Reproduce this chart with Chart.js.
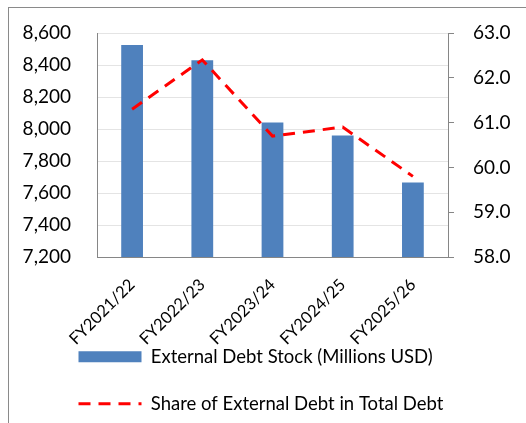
<!DOCTYPE html>
<html>
<head>
<meta charset="utf-8">
<script src="https://cdn.jsdelivr.net/npm/chart.js@4.4.0/dist/chart.umd.min.js"></script>
<style>
    html, body { margin: 0; padding: 0; background: #fff; overflow: hidden; }
    #frame { position: absolute; left: 8px; top: 7px; width: 600px; height: 600px; border: 1px solid #8a8a8a; }
    #wrap { position: absolute; left: 0; top: 0; width: 526px; height: 423px; }
</style>
</head>
<body>
<div id="frame"></div>
<div id="wrap"><canvas id="debtChart"></canvas></div>
<script>
// Chart data
const fiscalYears = ['FY2021/22', 'FY2022/23', 'FY2023/24', 'FY2024/25', 'FY2025/26'];
const externalDebtStock = [8525, 8430, 8040, 7960, 7665];
const externalShare = [61.3, 62.4, 60.7, 60.9, 59.8];

// Axis ranges [min, max, step]
const debtAxis = [7200, 8600, 200];
const shareAxis = [58, 63, 1];

const barColor = '#4F81BD';
const lineColor = '#FF0000';
const lineDash = [12, 8];
const fontFamily = 'Lato, "Liberation Sans", sans-serif';

// legend sits left-aligned under the axis labels, and the rotated
// category labels are allowed to run down into the legend's top padding
const layoutTweaks = {
    id: 'layoutTweaks',
    afterLayout(chart) {
        chart.legend.left = 50;
        chart.scales.x.bottom = chart.height;
    }
};

const ctx = document.getElementById('debtChart').getContext('2d');
const debtChart = new Chart(ctx, {
    data: {
        labels: fiscalYears,
        datasets: [{
            type: 'bar',
            label: 'External Debt Stock (Millions USD)',
            data: externalDebtStock,
            backgroundColor: barColor,
            barPercentage: 0.31,
            categoryPercentage: 1,
            yAxisID: 'y',
            order: 1
        }, {
            type: 'line',
            label: 'Share of External Debt in Total Debt',
            data: externalShare,
            borderColor: lineColor,
            borderWidth: 3,
            borderDash: lineDash,
            pointRadius: 0,
            tension: 0,
            fill: false,
            yAxisID: 'y1',
            order: 0
        }]
    },
    options: {
        responsive: true,
        maintainAspectRatio: false,
        animation: false,
        layout: {
            autoPadding: false,
            padding: { left: 20, right: 14, top: 33, bottom: 0 }
        },
        plugins: {
            tooltip: { enabled: false },
            legend: {
                position: 'bottom',
                align: 'start',
                labels: {
                    color: '#000',
                    font: { family: fontFamily, size: 18.5 },
                    usePointStyle: true,
                    pointStyleWidth: 63,
                    boxHeight: 11,
                    padding: 28.5,
                    sort: (a, b) => a.datasetIndex - b.datasetIndex,
                    generateLabels(chart) {
                        const items = Chart.defaults.plugins.legend.labels.generateLabels(chart);
                        items.forEach(item => {
                            if (item.datasetIndex === 0) {
                                item.pointStyle = 'rect';
                                item.lineWidth = 0;
                                item.fillStyle = barColor;
                            } else {
                                item.pointStyle = 'line';
                                item.lineWidth = 3;
                                item.strokeStyle = lineColor;
                                item.lineDash = lineDash;
                            }
                        });
                        return items;
                    }
                }
            }
        },
        scales: {
            x: {
                grid: { display: false, drawTicks: false },
                border: { display: true, color: '#868686', width: 1 },
                ticks: {
                    color: '#000',
                    font: { family: fontFamily, size: 16.5 },
                    minRotation: 45,
                    maxRotation: 45,
                    padding: 18
                },
                afterFit(scale) {
                    scale.height = 62;
                    scale.paddingLeft = 0;
                    scale.paddingRight = 0;
                }
            },
            y: {
                position: 'left',
                min: debtAxis[0],
                max: debtAxis[1],
                grid: { color: '#e4e4e4', drawTicks: false },
                border: { display: true, color: '#868686', width: 1 },
                ticks: {
                    stepSize: debtAxis[2],
                    color: '#000',
                    font: { family: fontFamily, size: 19 },
                    padding: 26,
                    callback: v => v.toLocaleString('en-US')
                },
                afterFit(scale) {
                    scale.width = 77;
                    scale.paddingTop = 0;
                    scale.paddingBottom = 0;
                }
            },
            y1: {
                position: 'right',
                min: shareAxis[0],
                max: shareAxis[1],
                grid: { drawOnChartArea: false, color: '#868686', tickLength: 6 },
                border: { display: true, color: '#868686', width: 1 },
                ticks: {
                    stepSize: shareAxis[2],
                    color: '#000',
                    font: { family: fontFamily, size: 19 },
                    padding: 19,
                    callback: v => v.toFixed(1)
                },
                afterFit(scale) {
                    scale.width = 64;
                    scale.paddingTop = 0;
                    scale.paddingBottom = 0;
                }
            }
        }
    },
    plugins: [layoutTweaks]
});
</script>
</body>
</html>
